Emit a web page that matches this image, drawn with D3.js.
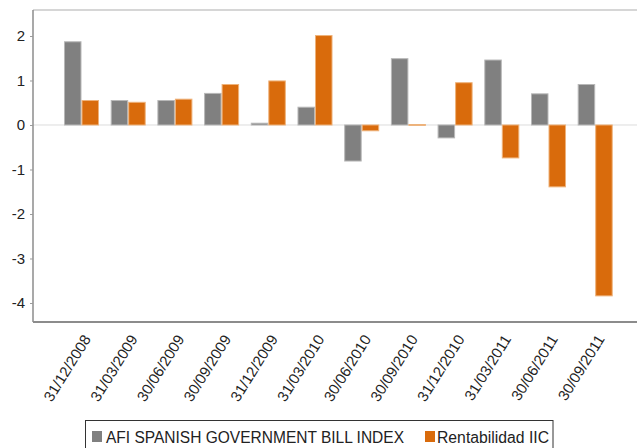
<!DOCTYPE html>
<html>
<head>
<meta charset="utf-8">
<script src="https://cdn.jsdelivr.net/npm/d3@7"></script>
<style>
  html, body { margin: 0; padding: 0; background: #fff; }
  svg { display: block; font-family: "Liberation Sans", Arial, sans-serif; }
</style>
</head>
<body>
<svg id="chart" width="637" height="448"></svg>
<script>
const categories = ["31/12/2008","31/03/2009","30/06/2009","30/09/2009","31/12/2009","31/03/2010",
                    "30/06/2010","30/09/2010","31/12/2010","31/03/2011","30/06/2011","30/09/2011"];
const seriesNames = ["AFI SPANISH GOVERNMENT BILL INDEX", "Rentabilidad IIC"];
const afiValues = [1.87, 0.55, 0.55, 0.71, 0.04, 0.40, -0.81, 1.49, -0.29, 1.46, 0.70, 0.91];
const iicValues = [0.55, 0.51, 0.58, 0.91, 0.99, 2.01, -0.13, 0.01, 0.95, -0.74, -1.39, -3.84];
const yTicks = [-4, -3, -2, -1, 0, 1, 2];
const colors = ["#808080", "#d96b0c"];
const strokes = ["#b8b8b8", "#eeb27a"];

const svg = d3.select("#chart");
const plot = { left: 33, right: 637, top: 10, bottom: 322 };

const y = d3.scaleLinear().domain([-4.427, 2.584]).range([plot.bottom, plot.top]);
const x = d3.scaleBand().domain(categories).range([58.15, 618.55]).paddingInner(0.25).paddingOuter(0.125);
const x1 = d3.scaleBand().domain([0, 1]).range([0, x.bandwidth()]);

// top border
svg.append("line").attr("x1", plot.left).attr("x2", plot.right)
  .attr("y1", plot.top).attr("y2", plot.top)
  .attr("stroke", "#c8c8c8").attr("stroke-width", 1.5);

// zero line
svg.append("line").attr("x1", plot.left).attr("x2", plot.right)
  .attr("y1", y(0)).attr("y2", y(0))
  .attr("stroke", "#dcdcdc").attr("stroke-width", 1);

// y axis
const yAxis = d3.axisLeft(y).tickValues(yTicks).tickSize(3).tickPadding(5).tickFormat(d => String(d));
const gy = svg.append("g").attr("transform", `translate(${plot.left},0)`).call(yAxis);
gy.select(".domain").attr("stroke", "#8c8c8c").attr("stroke-width", 1.5)
  .attr("d", `M0,${plot.top}V${plot.bottom}`);
gy.selectAll(".tick line").attr("stroke", "#9a9a9a");
gy.selectAll(".tick text").attr("font-size", 15).attr("fill", "#222")
  .attr("font-family", "'Liberation Sans', Arial, sans-serif");

// bars
const data = categories.map((c, i) => ({ c, v: [afiValues[i], iicValues[i]] }));
const groups = svg.append("g").selectAll("g").data(data).join("g")
  .attr("transform", d => `translate(${x(d.c)},0)`);
groups.selectAll("rect").data(d => d.v.map((v, k) => ({ v, k }))).join("rect")
  .attr("x", d => x1(d.k) + 0.5)
  .attr("width", x1.bandwidth() - 1)
  .attr("y", d => Math.min(y(d.v), y(0)))
  .attr("height", d => Math.max(0.8, Math.abs(y(d.v) - y(0))))
  .attr("fill", d => colors[d.k])
  .attr("stroke", d => strokes[d.k])
  .attr("stroke-width", 1);

// x axis line
svg.append("line").attr("x1", plot.left).attr("x2", plot.right)
  .attr("y1", plot.bottom).attr("y2", plot.bottom)
  .attr("stroke", "#8c8c8c").attr("stroke-width", 2);

// x labels
const xAxis = d3.axisBottom(x).tickSize(0).tickPadding(0);
const gx = svg.append("g").attr("transform", `translate(0,${plot.bottom})`).call(xAxis);
gx.select(".domain").remove();
gx.selectAll(".tick text")
  .attr("font-size", 15).attr("fill", "#222")
  .attr("font-family", "'Liberation Sans', Arial, sans-serif")
  .attr("text-anchor", "end")
  .attr("dy", null)
  .attr("y", null)
  .attr("transform", "translate(10,17) rotate(-58)");

// legend
const lg = svg.append("g");
lg.append("rect").attr("x", 85.5).attr("y", 420.5).attr("width", 467.5).attr("height", 40)
  .attr("fill", "#fff").attr("stroke", "#333").attr("stroke-width", 1);
const legendItems = [
  { sq: 92, tx: 106, w: 298 },
  { sq: 425, tx: 437, w: 112 }
];
legendItems.forEach((it, k) => {
  lg.append("rect").attr("x", it.sq).attr("y", 431).attr("width", 10).attr("height", 11)
    .attr("fill", colors[k]);
  lg.append("text").attr("x", it.tx).attr("y", 443)
    .attr("font-size", 16).attr("fill", "#222")
    .attr("textLength", it.w).attr("lengthAdjust", "spacingAndGlyphs")
    .text(seriesNames[k]);
});
</script>
</body>
</html>
